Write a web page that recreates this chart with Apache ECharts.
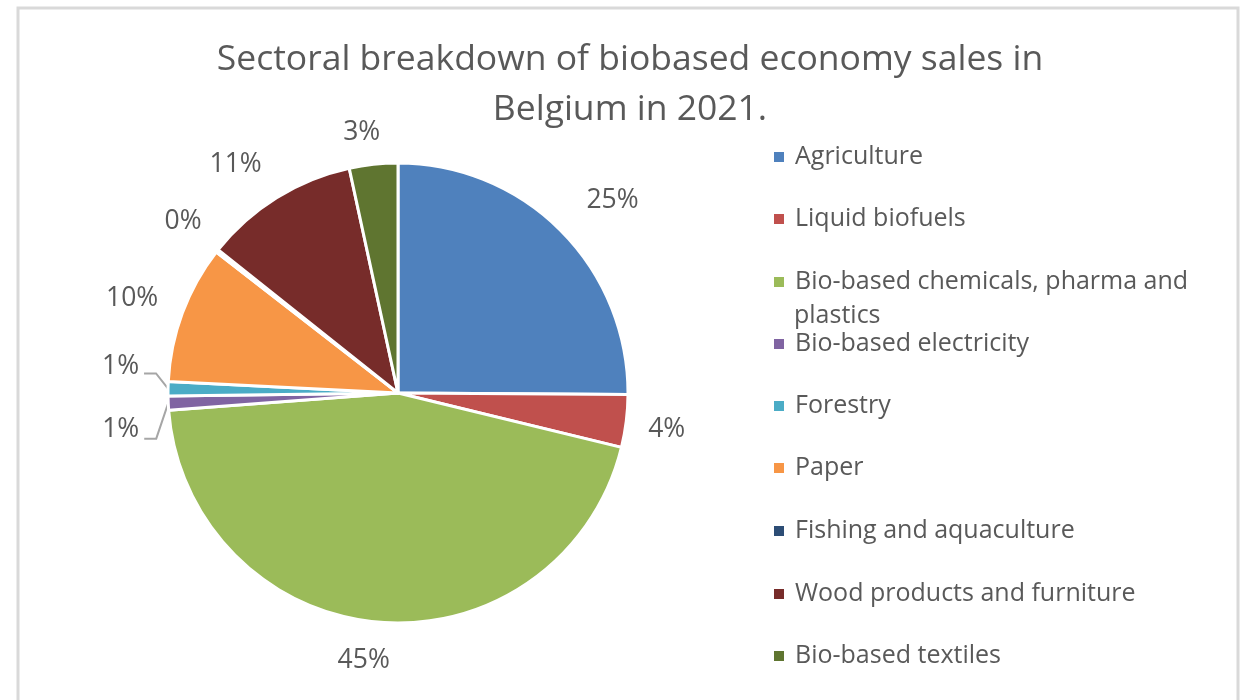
<!DOCTYPE html>
<html>
<head>
<meta charset="utf-8">
<script src="https://cdn.jsdelivr.net/npm/echarts@6/dist/echarts.min.js"></script>
<style>
html,body{margin:0;padding:0;background:#fff;}
#chart{width:1246px;height:700px;}
</style>
</head>
<body>
<div id="chart"></div>
<script>
const titleText = 'Sectoral breakdown of biobased economy sales in\nBelgium in 2021.';
const categories = ['Agriculture','Liquid biofuels','Bio-based chemicals, pharma and plastics','Bio-based electricity','Forestry','Paper','Fishing and aquaculture','Wood products and furniture','Bio-based textiles'];
const values = [25.1, 3.7, 45.0, 1.0, 1.0, 9.7, 0.2, 10.9, 3.4];
const colors = ['#4F81BD','#C0504D','#9BBB59','#8064A2','#4BACC6','#F79646','#2C4D75','#772C2A','#5F7530'];

const FONT = 'Open Sans';
const textColor = '#595959';
const LEG_FS = 25;

// vertical centre of each legend row (layout)
const legendRowCentres = [155, 217, 280, 342, 404, 466, 529, 592, 654];
// per-label nudges [dx, dy, leader-elbow dy] to mimic Excel "best fit" placement
const labelNudge = [[-1,-9],[3,7],[18,8],[0,26,35],[0,-22,-15],[9,-4],[13,-11],[6,-8],[15,-2]];

const seriesData = categories.map((c, i) => {
  const item = { name: c, value: values[i], itemStyle: { color: colors[i] } };
  if (i === 3 || i === 4) {
    item.labelLine = { show: true, length: 12, length2: 12, lineStyle: { color: '#a6a6a6', width: 2 } };
  }
  if (i === 1) {
    item.labelLine = { show: false, length: 14, length2: 0 };
  }
  return item;
});

const CHEM = 'Bio-based chemicals, pharma and plastics';
const legends = categories.map((c, i) => ({
  data: [c],
  left: 772,
  top: legendRowCentres[i] - 15,
  padding: 0,
  orient: 'vertical',
  icon: 'rect',
  itemWidth: 12,
  itemHeight: 12,
  selectedMode: false,
  formatter: n => n === CHEM ? 'Bio-based chemicals, pharma and' : n,
  textStyle: { fontFamily: FONT, fontSize: LEG_FS, color: textColor, lineHeight: 34, padding: [0, 0, 0, 5] }
}));

function layoutLabel(p) {
  const n = labelNudge[p.dataIndex];
  const o = { dx: n[0], dy: n[1] };
  if (n.length > 2 && p.labelLinePoints && p.labelLinePoints.length >= 3) {
    const pts = p.labelLinePoints.map(q => [q[0], q[1]]);
    pts[1][1] += n[2];
    pts[2][1] += n[2];
    o.labelLinePoints = pts;
  }
  return o;
}

const chart = echarts.init(document.getElementById('chart'), null, { renderer: 'canvas' });
chart.setOption({
  backgroundColor: '#fff',
  animation: false,
  title: {
    text: titleText,
    left: 625,
    textAlign: 'center',
    top: 30,
    textStyle: { fontFamily: FONT, fontSize: 35.5, fontWeight: 'normal', color: textColor, lineHeight: 50 }
  },
  graphic: [{
    type: 'rect',
    shape: { x: 18, y: 8, width: 1220, height: 720 },
    style: { fill: 'none', stroke: '#d9d9d9', lineWidth: 3 },
    silent: true
  }, {
    type: 'text',
    left: 794,
    top: 303,
    style: { text: 'plastics', font: LEG_FS + 'px "' + FONT + '"', fill: textColor },
    silent: true
  }],
  legend: legends,
  series: [{
    type: 'pie',
    center: [398, 393],
    radius: 230,
    startAngle: 90,
    clockwise: true,
    avoidLabelOverlap: false,
    data: seriesData,
    itemStyle: { borderColor: '#fff', borderWidth: 3 },
    label: {
      show: true,
      position: 'outside',
      fontFamily: FONT,
      fontSize: 26.5,
      color: textColor,
      formatter: p => Math.round(p.percent) + '%'
    },
    labelLine: { show: false, length: 30, length2: 0 },
    labelLayout: layoutLabel,
    emphasis: { disabled: true }
  }]
});
</script>
</body>
</html>
